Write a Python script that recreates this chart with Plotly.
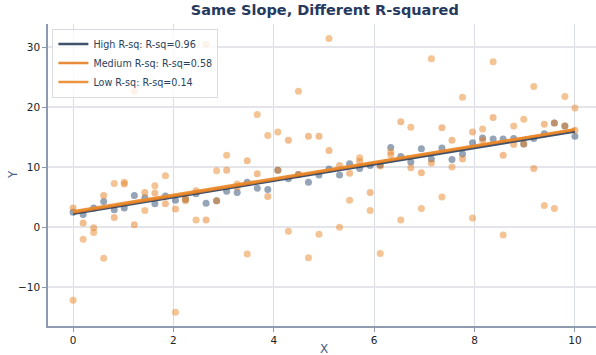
import numpy as np
import plotly.graph_objects as go

x_vals = [0.00, 0.20, 0.41, 0.61, 0.82, 1.02, 1.22, 1.43, 1.63, 1.84,
          2.04, 2.24, 2.45, 2.65, 2.86, 3.06, 3.27, 3.47, 3.67, 3.88,
          4.08, 4.29, 4.49, 4.69, 4.90, 5.10, 5.31, 5.51, 5.71, 5.92,
          6.12, 6.33, 6.53, 6.73, 6.94, 7.14, 7.35, 7.55, 7.76, 7.96,
          8.16, 8.37, 8.57, 8.78, 8.98, 9.18, 9.39, 9.59, 9.80, 10.00]

y_high = [2.5, 2.1, 3.2, 4.3, 2.9, 3.2, 5.3, 4.9, 3.9, 5.2,
          4.5, 4.6, 5.6, 4.0, 4.4, 6.0, 5.8, 7.5, 6.5, 6.3,
          9.5, 8.1, 8.8, 7.5, 8.7, 9.7, 8.7, 10.6, 9.8, 10.3,
          10.4, 13.3, 11.8, 10.9, 13.1, 11.4, 13.2, 11.3, 12.2, 14.1,
          14.9, 14.7, 14.7, 14.8, 13.9, 14.8, 15.6, 17.4, 16.9, 15.2]

y_medium = [3.2, 0.7, -0.1, 5.3, 1.6, 7.2, 0.4, 5.8, 5.7, 3.9,
            3.05, 4.8, 6.1, 1.2, 4.4, 9.5, 6.7, 11.1, 8.9, 5.1,
            9.5, 14.5, 8.8, 15.2, 15.2, 12.8, 10.3, 9.0, 11.0, 5.8,
            10.2, 12.1, 17.6, 9.9, 9.1, 10.7, 16.6, 14.5, 11.4, 15.9,
            14.5, 18.3, 12.0, 13.8, 13.9, 9.8, 17.2, 17.4, 16.9, 16.2]

y_low = [-12.2, -2.0, -0.9, -5.2, 7.3, 7.5, 22.7, 2.8, 6.9, 8.6,
         -14.2, 4.4, 1.2, 30.5, 9.4, 12.0, 7.2, -4.5, 18.8, 15.3,
         15.9, -0.7, 22.7, -5.1, -1.2, 31.5, 0.0, 4.5, 11.6, 2.8,
         -4.4, 12.6, 1.2, 16.7, 3.1, 28.1, 5.05, 10.05, 21.7, 1.55,
         16.4, 27.6, -1.3, 16.9, 18.0, 23.5, 3.6, 3.1, 21.8, 19.9]

# Fitted regression lines (intercept, slope)
fit_intercepts = [2.25, 2.45, 2.65]
fit_slopes = [1.37, 1.38, 1.37]

series_names = ["High R-sq", "Medium R-sq", "Low R-sq"]
r_squared_labels = ["0.96", "0.58", "0.14"]
point_colors = ["#2c4a6e", "#e67e22", "#ea8a2c"]
line_colors = ["#2b3f5c", "#e67e22", "#ea8a2c"]

fig = go.Figure()
xs = np.array(x_vals)
all_y = [y_high, y_medium, y_low]

for ys, pc in zip(all_y, point_colors):
    fig.add_trace(go.Scatter(
        x=x_vals, y=ys, mode="markers",
        marker=dict(size=7, color=pc, opacity=0.5, line=dict(width=0)),
        showlegend=False, hoverinfo="skip"))

for b0, b1, name, r2, lc in zip(fit_intercepts, fit_slopes, series_names,
                                r_squared_labels, line_colors):
    fit = b0 + b1 * xs
    fig.add_trace(go.Scatter(
        x=x_vals, y=fit, mode="lines",
        line=dict(color=lc, width=2.5),
        opacity=0.9,
        name=f"{name}: R-sq={r2}"))

font_family = "DejaVu Sans"
fig.update_layout(
    width=596, height=355,
    margin=dict(l=48, r=0, t=23.5, b=29),
    paper_bgcolor="white", plot_bgcolor="white",
    font=dict(family=font_family, size=11, color="#222222"),
    title=dict(text="<b>Same Slope, Different R-squared</b>",
               x=0.545, xanchor="center", y=0.985, yanchor="top",
               font=dict(size=14.5, color="#253a5e", family=font_family)),
    legend=dict(x=0.008, y=0.985, xanchor="left", yanchor="top",
                bgcolor="rgba(255,255,255,0.8)", bordercolor="#d8dbe2",
                borderwidth=1, font=dict(size=9.6, color="#2b3f5c"),
                itemwidth=30, tracegroupgap=0),
    showlegend=True,
    annotations=[
        dict(text="X", xref="paper", yref="paper", x=0.504, y=0,
             xanchor="center", yanchor="top", yshift=-14, showarrow=False,
             font=dict(size=12, color="#4a5d85")),
        dict(text="Y", xref="paper", yref="paper", x=0, y=0.5,
             xanchor="center", yanchor="middle", xshift=-35, textangle=-90,
             showarrow=False, font=dict(size=12, color="#4a5d85")),
    ],
)
fig.update_xaxes(
    range=[-0.5, 10.42], tickvals=[0, 2, 4, 6, 8, 10], automargin=False,
    showgrid=True, gridcolor="#dadde5", gridwidth=1,
    zeroline=False, showline=True, linecolor="#8d9ab0", linewidth=1.5,
    ticks="outside", ticklen=4, tickcolor="#8d9ab0",
    tickfont=dict(size=10.5, color="#222222"))
fig.update_yaxes(
    range=[-16.5, 33.92], tickvals=[-10, 0, 10, 20, 30], automargin=False,
    showgrid=True, gridcolor="#e4e5ea", gridwidth=1.5,
    zeroline=False, showline=True, linecolor="#8d9ab0", linewidth=1.5,
    ticks="outside", ticklen=4, tickcolor="#8d9ab0",
    tickfont=dict(size=10.5, color="#222222"))

fig.write_html("out.html")
